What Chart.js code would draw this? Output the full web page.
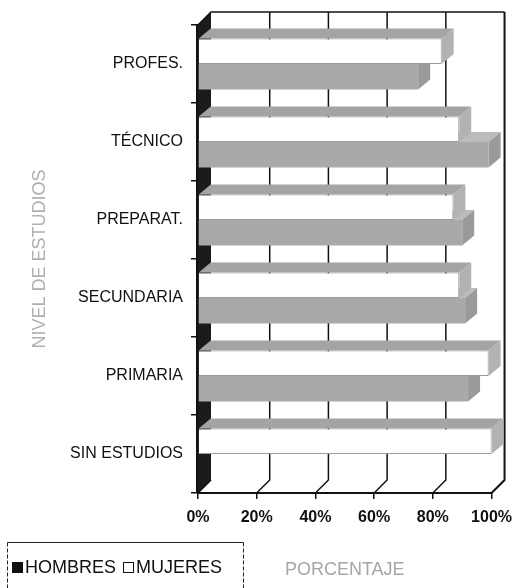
<!DOCTYPE html>
<html>
<head>
<meta charset="utf-8">
<script src="https://cdn.jsdelivr.net/npm/chart.js@4.4.1/dist/chart.umd.min.js"></script>
<style>
  html, body { margin: 0; padding: 0; background: #fff; }
  #wrap { width: 521px; height: 588px; }
</style>
</head>
<body>
<div id="wrap"><canvas id="chart" width="521" height="588"></canvas></div>
<script>
const categories = ['PROFES.', 'TÉCNICO', 'PREPARAT.', 'SECUNDARIA', 'PRIMARIA', 'SIN ESTUDIOS'];
const hombres = [75, 99, 90, 91, 92, 0];
const mujeres = [83, 89, 87, 89, 99, 100];
const xTicks = [0, 20, 40, 60, 80, 100];

const FONT = '"Liberation Sans", Arial, sans-serif';
Chart.defaults.font.family = FONT;
Chart.defaults.color = '#111';

// offsets for the back wall and for the bar depth
const WALL = { x: 13, y: -13 };
const BAR = { x: 12, y: -10 };

function poly(ctx, pts) {
    ctx.beginPath();
    ctx.moveTo(pts[0][0], pts[0][1]);
    for (let i = 1; i < pts.length; i++) ctx.lineTo(pts[i][0], pts[i][1]);
    ctx.closePath();
    ctx.fill();
}

// fake 3D box: left wall, back gridlines, floor, then bar top/side faces
const frame3d = {
    id: 'frame3d',
    beforeDatasetsDraw(chart) {
        const { ctx, chartArea: a } = chart;
        const xs = chart.scales.x;
        ctx.save();

        ctx.fillStyle = '#1b1b1b';
        poly(ctx, [[a.left, a.top], [a.left + WALL.x, a.top + WALL.y],
                   [a.left + WALL.x, a.bottom + WALL.y], [a.left, a.bottom]]);

        ctx.strokeStyle = '#111';
        ctx.lineWidth = 1.5;
        xTicks.forEach(v => {
            const px = xs.getPixelForValue(v);
            ctx.lineWidth = v === 100 ? 2 : 1.5;
            ctx.beginPath();
            ctx.moveTo(px, a.bottom);
            ctx.lineTo(px + WALL.x, a.bottom + WALL.y);
            if (v > 0) ctx.lineTo(px + WALL.x, a.top + WALL.y);
            ctx.stroke();
        });
        ctx.lineWidth = 1.5;
        ctx.beginPath();
        ctx.moveTo(a.left, a.top);
        ctx.lineTo(a.left + WALL.x, a.top + WALL.y);
        ctx.lineTo(a.right + WALL.x, a.top + WALL.y);
        ctx.stroke();

        for (let i = chart.data.datasets.length - 1; i >= 0; i--) {
            const ds = chart.data.datasets[i];
            chart.getDatasetMeta(i).data.forEach(bar => {
                const { x, y, base, height } = bar.getProps(['x', 'y', 'base', 'height'], true);
                if (x - base < 1) return;
                const t = y - height / 2, b = y + height / 2;
                ctx.fillStyle = ds.faceTop;
                poly(ctx, [[base, t], [x, t], [x + BAR.x, t + BAR.y], [base + BAR.x, t + BAR.y]]);
                ctx.fillStyle = ds.faceSide;
                poly(ctx, [[x, t], [x, b], [x + BAR.x, b + BAR.y], [x + BAR.x, t + BAR.y]]);
            });
        }
        ctx.restore();
    },
    afterDatasetsDraw(chart) {
        const { ctx, chartArea: a } = chart;
        ctx.save();
        ctx.strokeStyle = '#111';
        ctx.lineWidth = 2;
        ctx.beginPath();
        ctx.moveTo(a.left - 1, a.top);
        ctx.lineTo(a.left - 1, a.bottom);
        ctx.stroke();
        ctx.restore();
    }
};

// boxed legend in the bottom-left corner, HOMBRES first
const boxLegend = {
    id: 'boxLegend',
    afterDraw(chart) {
        const { ctx } = chart;
        ctx.save();
        ctx.strokeStyle = '#222';
        ctx.lineWidth = 1;
        ctx.beginPath();
        ctx.moveTo(7.5, 542.5);
        ctx.lineTo(243.5, 542.5);
        ctx.stroke();
        ctx.setLineDash([4, 2]);
        ctx.beginPath();
        ctx.moveTo(7.5, 542.5); ctx.lineTo(7.5, 590);
        ctx.moveTo(243.5, 542.5); ctx.lineTo(243.5, 590);
        ctx.stroke();
        ctx.setLineDash([]);

        ctx.font = '18px ' + FONT;
        ctx.textBaseline = 'middle';
        ctx.fillStyle = '#111';
        let lx = 12;
        const ly = 568;
        chart.data.datasets.slice().reverse().forEach(ds => {
            ctx.fillStyle = ds.legendColor;
            ctx.fillRect(lx + 0.5, ly - 5.5, 10, 10);
            ctx.strokeStyle = '#111';
            ctx.strokeRect(lx + 0.5, ly - 5.5, 10, 10);
            ctx.fillStyle = '#111';
            ctx.fillText(ds.label, lx + 13, ly);
            lx += 13 + ctx.measureText(ds.label).width + 7;
        });
        ctx.restore();
    }
};

new Chart(document.getElementById('chart'), {
    type: 'bar',
    data: {
        labels: categories,
        datasets: [
            {
                label: 'MUJERES',
                data: mujeres,
                backgroundColor: '#ffffff',
                borderColor: '#9a9a9a',
                borderWidth: 1,
                borderSkipped: 'start',
                faceTop: '#a4a4a4',
                faceSide: '#b2b2b2',
                legendColor: '#ffffff'
            },
            {
                label: 'HOMBRES',
                data: hombres,
                backgroundColor: '#a9a9a9',
                borderWidth: 0,
                faceTop: '#bcbcbc',
                faceSide: '#9a9a9a',
                legendColor: '#111111'
            }
        ]
    },
    options: {
        indexAxis: 'y',
        responsive: false,
        animation: false,
        categoryPercentage: 0.655,
        barPercentage: 1.0,
        layout: { padding: { top: 25, right: 26, bottom: 0, left: 5 } },
        plugins: {
            legend: { display: false },
            tooltip: { enabled: false }
        },
        scales: {
            x: {
                type: 'linear',
                min: 0,
                max: 100,
                afterFit(s) { s.height = 95; },
                ticks: {
                    stepSize: 20,
                    padding: 9,
                    color: '#111',
                    font: { size: 16, weight: 'bold' },
                    callback: v => v + '%'
                },
                grid: { drawOnChartArea: false, tickLength: 6, color: '#111', lineWidth: 1.5 },
                border: { display: true, color: '#111', width: 2 },
                title: {
                    display: true,
                    text: 'PORCENTAJE',
                    color: '#a6a6a6',
                    font: { size: 18 },
                    padding: { top: 0, bottom: 7 }
                }
            },
            y: {
                afterFit(s) { s.width = 193; },
                ticks: { padding: 8, color: '#111', font: { size: 16 } },
                grid: { drawOnChartArea: false, tickLength: 7, color: '#111', lineWidth: 1.5 },
                border: { display: true, color: '#111', width: 2 },
                title: {
                    display: true,
                    text: 'NIVEL DE ESTUDIOS',
                    color: '#b0b0b0',
                    font: { size: 18 },
                    padding: { top: 24, bottom: 8 }
                }
            }
        }
    },
    plugins: [frame3d, boxLegend]
});
</script>
</body>
</html>
